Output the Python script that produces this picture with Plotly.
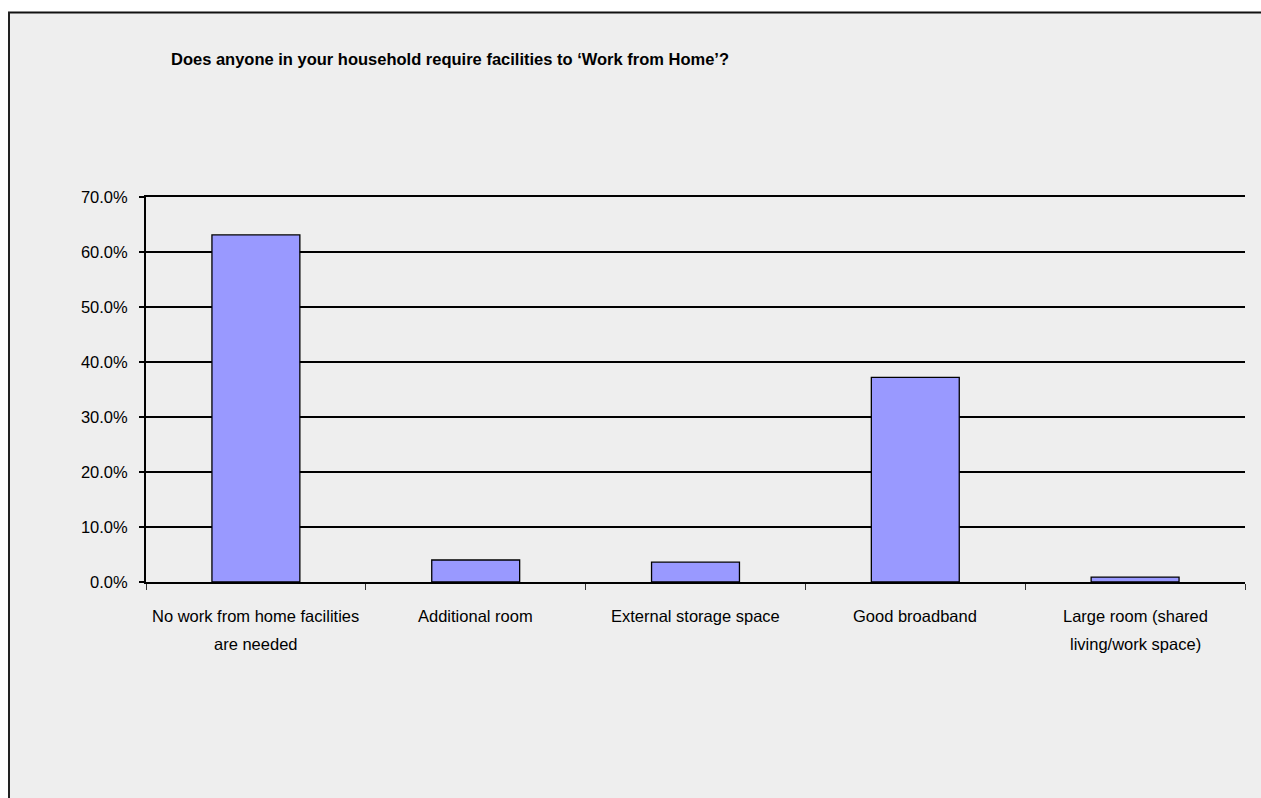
import plotly.graph_objects as go

categories = [
    "No work from home facilities are needed",
    "Additional room",
    "External storage space",
    "Good broadband",
    "Large room (shared living/work space)",
]
label_lines = [
    ["No work from home facilities", "are needed"],
    ["Additional room"],
    ["External storage space"],
    ["Good broadband"],
    ["Large room (shared", "living/work space)"],
]
values = [0.631, 0.040, 0.036, 0.372, 0.009]
tick_vals = [0, 0.1, 0.2, 0.3, 0.4, 0.5, 0.6, 0.7]
tick_text = ["0.0%", "10.0%", "20.0%", "30.0%", "40.0%", "50.0%", "60.0%", "70.0%"]
title_text = "Does anyone in your household require facilities to \u2018Work from Home\u2019?"

W, H = 1261, 798
L, R, T, B = 146, 1245, 197, 582
pw, ph = R - L, B - T


def px(x):
    return (x - L) / pw


def py(y):
    return (B - y) / ph


FONT = "Liberation Sans, Arial, sans-serif"
FS = 16.5

fig = go.Figure(
    go.Bar(
        x=categories,
        y=values,
        marker=dict(color="#9999FF", line=dict(color="black", width=1.3)),
        width=0.4,
    )
)

annotations = [
    dict(text="<b>" + title_text + "</b>", xref="paper", yref="paper", x=px(169), y=py(59),
         xanchor="left", yanchor="middle", showarrow=False,
         font=dict(family=FONT, size=16.5, color="black")),
]
line_y = [616, 644]
for cat, lines in zip(categories, label_lines):
    for i, ln in enumerate(lines):
        annotations.append(
            dict(text=ln, xref="x", yref="paper", x=cat, y=py(line_y[i]),
                 xanchor="center", yanchor="middle", showarrow=False,
                 font=dict(family=FONT, size=FS, color="black"))
        )

fig.update_layout(
    width=W,
    height=H,
    margin=dict(l=L, r=W - R, t=T, b=H - B, pad=0),
    paper_bgcolor="#eeeeee",
    plot_bgcolor="#eeeeee",
    showlegend=False,
    font=dict(family=FONT, size=FS, color="black"),
    xaxis=dict(
        showgrid=False,
        showline=True,
        linecolor="black",
        linewidth=2,
        ticks="outside",
        tickson="boundaries",
        ticklen=6,
        tickwidth=1,
        tickcolor="#333333",
        showticklabels=False,
        mirror=True,
    ),
    yaxis=dict(
        range=[0, 0.7],
        tickvals=tick_vals,
        ticktext=tick_text,
        showgrid=True,
        gridcolor="black",
        gridwidth=2,
        showline=True,
        linecolor="black",
        linewidth=2,
        ticks="outside",
        ticklen=5,
        tickwidth=2,
        tickcolor="black",
        zeroline=False,
        ticklabelstandoff=8,
        tickfont=dict(family=FONT, size=FS),
    ),
    shapes=[
        dict(type="rect", xref="paper", yref="paper", x0=px(-5), x1=px(W + 5), y0=py(12), y1=py(-5),
             fillcolor="white", line=dict(width=0), layer="above"),
        dict(type="rect", xref="paper", yref="paper", x0=px(-5), x1=px(8), y0=py(H + 5), y1=py(-5),
             fillcolor="white", line=dict(width=0), layer="above"),
        dict(type="line", xref="paper", yref="paper", x0=px(8), x1=px(W + 5), y0=py(12.5), y1=py(12.5),
             line=dict(color="#111111", width=2), layer="above"),
        dict(type="line", xref="paper", yref="paper", x0=px(9), x1=px(9), y0=py(12), y1=py(H + 5),
             line=dict(color="#222222", width=2), layer="above"),
    ],
    annotations=annotations,
)

fig.write_html("out.html")
